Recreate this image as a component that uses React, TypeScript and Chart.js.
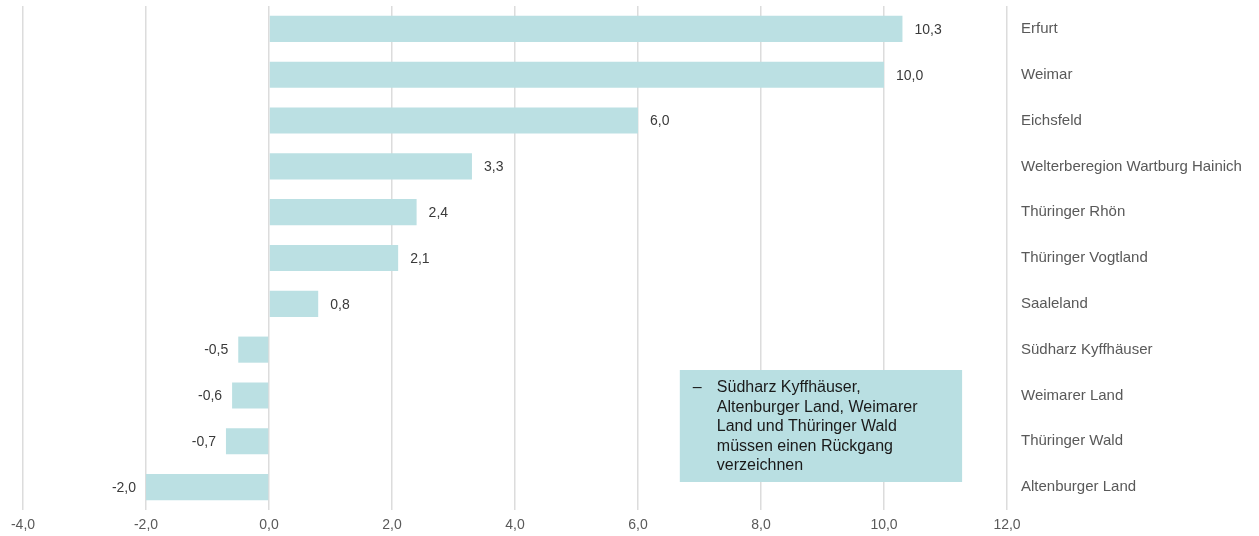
import React, { useEffect, useRef } from "react";
import { Chart, registerables } from "chart.js";

Chart.register(...registerables);

const categories = [
  "Erfurt",
  "Weimar",
  "Eichsfeld",
  "Welterberegion Wartburg Hainich",
  "Thüringer Rhön",
  "Thüringer Vogtland",
  "Saaleland",
  "Südharz Kyffhäuser",
  "Weimarer Land",
  "Thüringer Wald",
  "Altenburger Land",
];
const values = [10.3, 10.0, 6.0, 3.3, 2.4, 2.1, 0.8, -0.5, -0.6, -0.7, -2.0];
const xTicks = [-4, -2, 0, 2, 4, 6, 8, 10, 12];
const noteLines = [
  "Südharz Kyffhäuser,",
  "Altenburger Land, Weimarer",
  "Land und Thüringer Wald",
  "müssen einen Rückgang",
  "verzeichnen",
];

const FONT = "'Liberation Sans', Arial, Helvetica, sans-serif";
const BAR = "#bbe0e3";

const fmt = (v: number) => v.toFixed(1).replace(".", ",");

const labelPlugin = {
  id: "barLabels",
  afterDatasetsDraw(chart: any) {
    const ctx = chart.ctx;
    const meta = chart.getDatasetMeta(0);
    ctx.save();
    ctx.font = `14px ${FONT}`;
    ctx.fillStyle = "#3a3a3a";
    ctx.textBaseline = "middle";
    meta.data.forEach((el: any, i: number) => {
      const v = values[i];
      if (v >= 0) {
        ctx.textAlign = "left";
        ctx.fillText(fmt(v), el.x + 12, el.y + 1);
      } else {
        ctx.textAlign = "right";
        ctx.fillText(fmt(v), el.x - 10, el.y + 1);
      }
    });
    ctx.restore();
  },
};

const notePlugin = {
  id: "note",
  afterDraw(chart: any) {
    const ctx = chart.ctx;
    const xs = chart.scales.x;
    const x0 = xs.getPixelForValue(6.68);
    const x1 = xs.getPixelForValue(11.27);
    const y0 = 370;
    const y1 = 482;
    ctx.save();
    ctx.fillStyle = "#b9dfe2";
    ctx.fillRect(x0, y0, x1 - x0, y1 - y0);
    ctx.fillStyle = "#1a1a1a";
    ctx.font = `16px ${FONT}`;
    ctx.textBaseline = "middle";
    ctx.textAlign = "left";
    ctx.fillText("–", x0 + 13, 388);
    noteLines.forEach((t, i) => {
      ctx.fillText(t, x0 + 37, 388 + i * 19.5);
    });
    ctx.restore();
  },
};

export default function App() {
  const ref = useRef<HTMLCanvasElement>(null);
  useEffect(() => {
    document.body.style.margin = "0";
    const chart = new Chart(ref.current!, {
      type: "bar",
      data: {
        labels: categories,
        datasets: [
          {
            data: values,
            backgroundColor: BAR,
            borderWidth: 0,
            categoryPercentage: 1,
            barPercentage: 0.57,
          },
        ],
      },
      options: {
        indexAxis: "y",
        animation: false,
        responsive: false,
        layout: { padding: { top: 6, left: 23, right: 0, bottom: 4 } },
        plugins: { legend: { display: false }, tooltip: { enabled: false } },
        scales: {
          x: {
            min: -4,
            max: 12,
            afterBuildTicks(scale: any) {
              scale.ticks = xTicks.map((v) => ({ value: v }));
            },
            afterFit(scale: any) {
              scale.height = 22;
            },
            grid: { color: "#dcdcdc", lineWidth: 1.5, drawTicks: false },
            border: { display: false },
            ticks: {
              padding: 7,
              color: "#595959",
              font: { family: FONT, size: 14 },
              callback: (v: any) => fmt(Number(v)),
            },
          },
          y: {
            position: "right",
            afterFit(scale: any) {
              scale.width = 252;
              scale.paddingTop = 0;
              scale.paddingBottom = 0;
            },
            grid: {
              display: true,
              drawOnChartArea: false,
              drawTicks: true,
              tickLength: 14,
              color: "rgba(0,0,0,0)",
            },
            border: { display: false },
            ticks: {
              padding: 0,
              color: "#595959",
              font: { family: FONT, size: 15 },
            },
          },
        },
      },
      plugins: [labelPlugin, notePlugin],
    });
    return () => chart.destroy();
  }, []);
  return (
    <div style={{ width: 1259, height: 536, background: "#fff" }}>
      <canvas ref={ref} width={1259} height={536} style={{ display: "block" }} />
    </div>
  );
}
